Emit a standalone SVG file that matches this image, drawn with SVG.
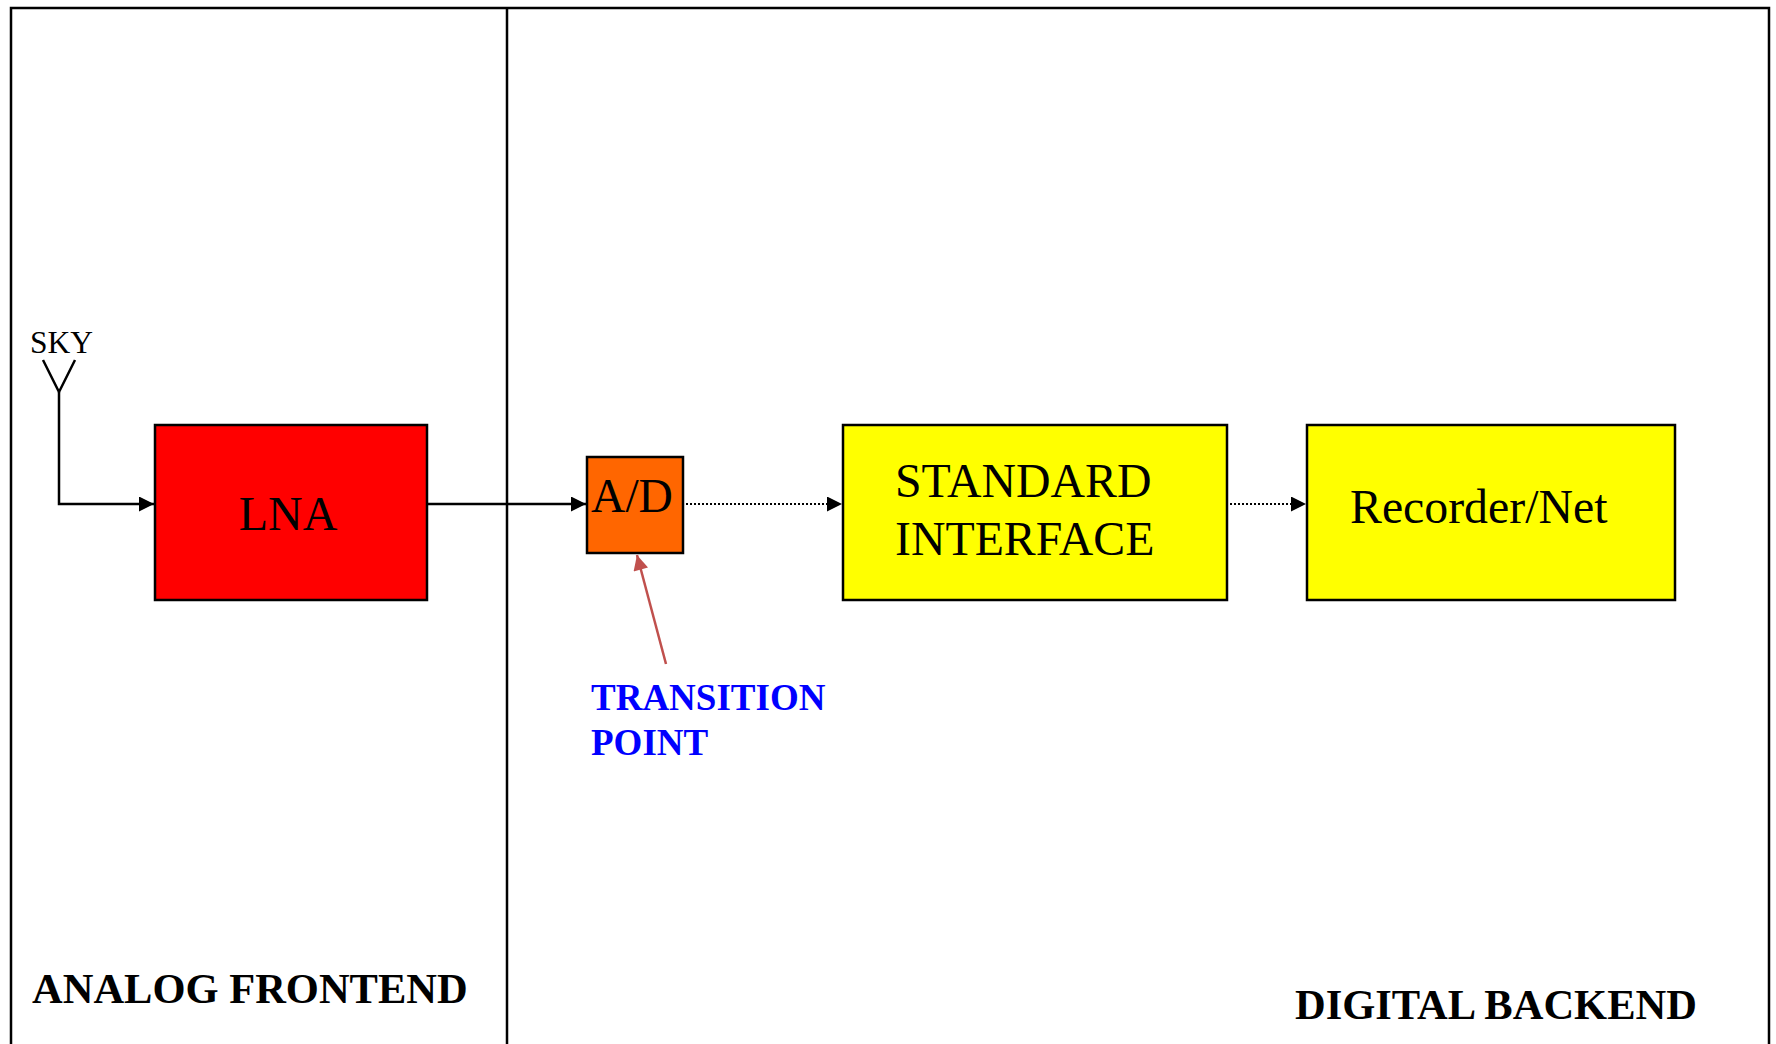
<svg xmlns="http://www.w3.org/2000/svg" width="1776" height="1044" viewBox="0 0 1776 1044">
<style>
.box{stroke:#000;stroke-width:2.5}
.t{font-family:"Liberation Serif","Times New Roman",serif;fill:#000}
.lbl{font-family:"Liberation Serif","Times New Roman",serif;font-weight:bold}
.ln{stroke:#000;stroke-width:2.5;fill:none}
.dot{stroke:#000;stroke-width:2;fill:none;stroke-dasharray:2 2}
</style>
<defs>
<marker id="ah" viewBox="0 0 10 10" refX="10" refY="5" markerWidth="17" markerHeight="15" markerUnits="userSpaceOnUse" orient="auto">
<path d="M0,0 L10,5 L0,10 z" fill="#000"/>
</marker>
<marker id="ahr" viewBox="0 0 10 10" refX="10" refY="5" markerWidth="17" markerHeight="15" markerUnits="userSpaceOnUse" orient="auto">
<path d="M0,0 L10,5 L0,10 z" fill="#C0504D"/>
</marker>
</defs>
<rect width="1776" height="1044" fill="#fff"/>
<g id="frame">
<path d="M11,1050 V8 H1769 V1050" class="ln"/>
<line x1="507" y1="8" x2="507" y2="1050" class="ln"/>
</g>
<g id="antenna">
<path d="M43,360 L59,392 L75,360" class="ln" stroke-width="2"/>
<text x="30" y="353" class="t" font-size="31.5">SKY</text>
</g>
<g id="lna">
<rect x="155" y="425" width="272" height="175" fill="#FF0000" class="box"/>
<text x="288" y="530" class="t" font-size="48" text-anchor="middle">LNA</text>
</g>
<g id="ad">
<rect x="587" y="457" width="96" height="96" fill="#FF6600" class="box"/>
<text x="632" y="512" class="t" font-size="47.5" text-anchor="middle">A/D</text>
</g>
<g id="stdif">
<rect x="843" y="425" width="384" height="175" fill="#FFFF00" class="box"/>
<text x="895" y="497" class="t" font-size="47.8">STANDARD</text>
<text x="895" y="555" class="t" font-size="47.8">INTERFACE</text>
</g>
<g id="recorder">
<rect x="1307" y="425" width="368" height="175" fill="#FFFF00" class="box"/>
<text x="1350" y="523" class="t" font-size="47.8">Recorder/Net</text>
</g>
<g id="transition">
<text x="591" y="710" class="lbl" font-size="37" fill="#0000FF">TRANSITION</text>
<text x="591" y="755" class="lbl" font-size="37" fill="#0000FF">POINT</text>
</g>
<g id="sections">
<text x="32" y="1003" class="lbl" font-size="42.5" fill="#000">ANALOG FRONTEND</text>
<text x="1295" y="1019" class="lbl" font-size="42.5" fill="#000">DIGITAL BACKEND</text>
</g>
<g id="connectors">
<path d="M59,392 V504 H154" class="ln" marker-end="url(#ah)"/>
<line x1="427" y1="504" x2="586" y2="504" class="ln" marker-end="url(#ah)"/>
<line x1="686" y1="504" x2="842" y2="504" class="dot" marker-end="url(#ah)"/>
<line x1="1230" y1="504" x2="1306" y2="504" class="dot" marker-end="url(#ah)"/>
<line x1="666" y1="664" x2="637" y2="555" stroke="#C0504D" stroke-width="2.5" marker-end="url(#ahr)"/>
</g>
</svg>
